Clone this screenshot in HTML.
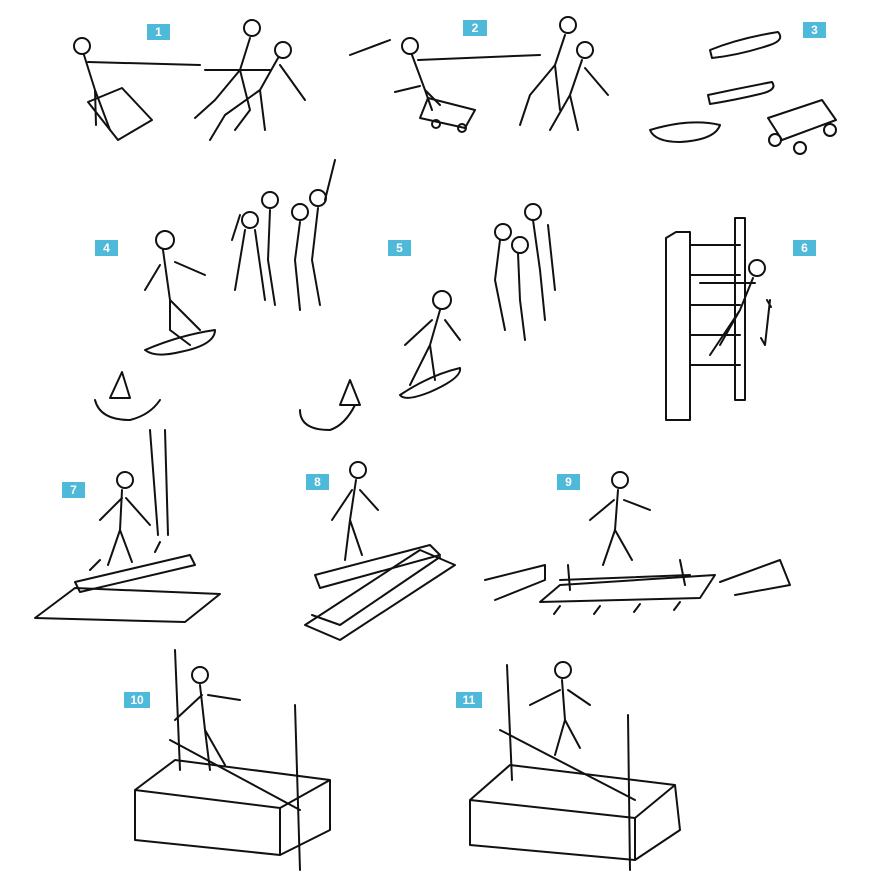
<!DOCTYPE html>
<html><head><meta charset="utf-8"><style>
body{margin:0;background:#fff;}
svg{display:block}
.l{font-family:"Liberation Sans",sans-serif;font-weight:bold;font-size:12px;fill:#fff;text-anchor:middle}
</style></head><body>
<svg width="870" height="896" viewBox="0 0 870 896" xmlns="http://www.w3.org/2000/svg">
<g fill="#4fb9d9">
<rect x="147" y="24" width="23" height="16"/><rect x="463" y="20" width="24" height="16"/><rect x="803" y="22" width="23" height="16"/>
<rect x="95" y="240" width="23" height="16"/><rect x="388" y="240" width="23" height="16"/><rect x="793" y="240" width="23" height="16"/>
<rect x="62" y="482" width="23" height="16"/><rect x="306" y="474" width="23" height="16"/><rect x="557" y="474" width="23" height="16"/>
<rect x="124" y="692" width="26" height="16"/><rect x="456" y="692" width="26" height="16"/>
</g>
<g class="l">
<text x="158.5" y="36">1</text><text x="475" y="32">2</text><text x="814.5" y="34">3</text>
<text x="106.5" y="252">4</text><text x="399.5" y="252">5</text><text x="804.5" y="252">6</text>
<text x="73.5" y="494">7</text><text x="317.5" y="486">8</text><text x="568.5" y="486">9</text>
<text x="137" y="704">10</text><text x="469" y="704">11</text>
</g>
<g fill="none" stroke="#111" stroke-width="2" stroke-linecap="round" stroke-linejoin="round">
<!-- 1 -->
<path d="M88 102 L118 140 L152 120 L122 88 Z"/>
<circle cx="82" cy="46" r="8"/><path d="M84 55 L95 90 L110 130 M95 90 L96 125 M88 62 L200 65 M205 70 L270 70"/>
<circle cx="252" cy="28" r="8"/><path d="M250 38 L240 70 L215 100 L195 118 M240 70 L250 110 L235 130"/>
<circle cx="283" cy="50" r="8"/><path d="M278 58 L260 90 L225 115 L210 140 M260 90 L265 130 M280 65 L305 100"/>
<!-- 2 -->
<path d="M428 98 L475 110 L465 128 L420 118 Z"/><circle cx="436" cy="124" r="4"/><circle cx="462" cy="128" r="4"/>
<circle cx="410" cy="46" r="8"/><path d="M412 55 L425 90 L440 105 M425 90 L432 110 M418 60 L540 55"/>
<path d="M350 55 L390 40 M395 92 L420 86"/>
<circle cx="568" cy="25" r="8"/><path d="M565 35 L555 65 L530 95 L520 125 M555 65 L560 110"/>
<circle cx="585" cy="50" r="8"/><path d="M582 60 L570 95 L550 130 M570 95 L578 130 M585 68 L608 95"/>
<!-- 3 -->
<path d="M710 50 Q740 38 778 32 Q785 40 770 45 Q740 55 712 58 Z"/>
<path d="M708 95 Q740 88 772 82 Q778 90 760 94 Q735 100 710 104 Z"/>
<path d="M650 130 Q690 118 720 125 Q715 140 680 142 Q655 142 650 130 Z"/>
<path d="M768 118 L822 100 L836 120 L782 140 Z"/><circle cx="775" cy="140" r="6"/><circle cx="800" cy="148" r="6"/><circle cx="830" cy="130" r="6"/>
<!-- 4 -->
<circle cx="165" cy="240" r="9"/><path d="M163 250 L170 300 L170 330 L190 345 M170 300 L200 330 M160 265 L145 290 M175 262 L205 275"/>
<path d="M145 350 Q180 335 215 330 Q215 345 180 352 Q155 358 145 350 Z"/>
<path d="M110 398 L122 372 L130 398 Z M95 400 Q100 420 130 420 Q150 415 160 400"/>
<circle cx="250" cy="220" r="8"/><circle cx="270" cy="200" r="8"/><circle cx="300" cy="212" r="8"/><circle cx="318" cy="198" r="8"/>
<path d="M245 230 L235 290 M255 230 L265 300 M270 210 L268 260 L275 305 M300 222 L295 260 L300 310 M318 208 L312 260 L320 305 M325 200 L335 160 M240 215 L232 240"/>
<!-- 5 -->
<circle cx="442" cy="300" r="9"/><path d="M440 310 L430 345 L410 385 M430 345 L435 380 M432 320 L405 345 M445 320 L460 340"/>
<path d="M400 395 Q430 375 460 368 Q462 378 430 392 Q405 402 400 395 Z"/>
<path d="M340 405 L350 380 L360 405 Z M300 410 Q300 430 330 430 Q345 425 355 405"/>
<circle cx="503" cy="232" r="8"/><circle cx="520" cy="245" r="8"/><circle cx="533" cy="212" r="8"/>
<path d="M500 240 L495 280 L505 330 M518 253 L520 300 L525 340 M533 220 L540 270 L545 320 M548 225 L555 290"/>
<!-- 6 -->
<path d="M676 232 L690 232 L690 420 L666 420 L666 238 Z M735 218 L745 218 L745 400 L735 400 Z"/>
<path d="M690 245 L740 245 M690 275 L740 275 M690 305 L740 305 M690 335 L740 335 M690 365 L740 365"/>
<circle cx="757" cy="268" r="8"/><path d="M753 278 L740 310 L710 355 M740 310 L720 345 M700 283 L755 283"/>
<path d="M770 300 L765 345 M767 300 l4 7 M765 345 l-4 -7"/>
<!-- 7 -->
<path d="M35 618 L75 588 L220 594 L185 622 Z"/>
<path d="M75 582 L190 555 L195 565 L80 592 Z M90 570 L100 560 M155 552 L160 542"/>
<path d="M150 430 L158 535 M165 430 L168 535"/>
<circle cx="125" cy="480" r="8"/><path d="M122 490 L120 530 L108 565 M120 530 L132 562 M122 498 L100 520 M126 498 L150 525"/>
<!-- 8 -->
<path d="M305 625 L340 640 L455 565 L420 550 Z M312 615 L340 625 L440 557"/>
<path d="M315 575 L430 545 L440 555 L320 588 Z"/>
<circle cx="358" cy="470" r="8"/><path d="M356 480 L350 520 L345 560 M350 520 L362 555 M352 490 L332 520 M360 490 L378 510"/>
<!-- 9 -->
<path d="M540 602 L560 585 L715 575 L700 598 Z"/>
<path d="M560 580 L690 575 M568 565 L570 590 M680 560 L685 585"/>
<path d="M485 580 L545 565 L545 580 L495 600 M720 582 L780 560 L790 585 L735 595"/>
<path d="M560 606 l-6 8 M600 606 l-6 8 M640 604 l-6 8 M680 602 l-6 8"/>
<circle cx="620" cy="480" r="8"/><path d="M618 490 L615 530 L603 565 M615 530 L632 560 M614 500 L590 520 M624 500 L650 510"/>
<!-- 10 -->
<path d="M135 790 L175 760 L330 780 L330 830 L280 855 L135 840 Z M135 790 L280 808 L330 780 M280 808 L280 855"/>
<path d="M175 650 L180 770 M295 705 L300 870 M170 740 L300 810"/>
<circle cx="200" cy="675" r="8"/><path d="M200 685 L205 730 L210 770 M205 730 L225 765 M202 695 L175 720 M208 695 L240 700"/>
<!-- 11 -->
<path d="M470 800 L510 765 L675 785 L680 830 L635 860 L470 845 Z M470 800 L635 818 L675 785 M635 818 L635 860"/>
<path d="M507 665 L512 780 M628 715 L630 870 M500 730 L635 800"/>
<circle cx="563" cy="670" r="8"/><path d="M562 680 L565 720 L555 755 M565 720 L580 748 M560 690 L530 705 M568 690 L590 705"/>
</g>
</svg>
</body></html>
